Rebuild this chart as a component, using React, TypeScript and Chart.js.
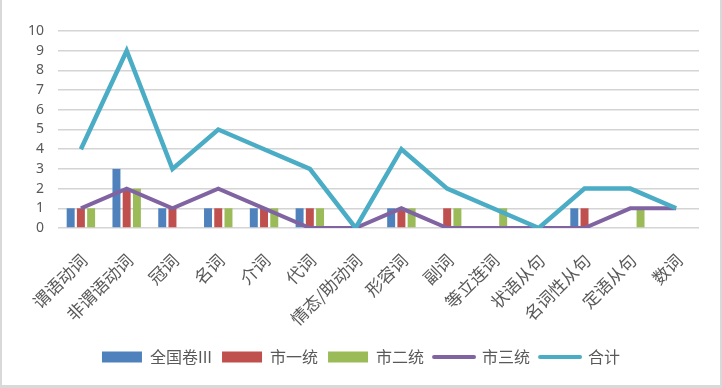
import React, { useEffect, useRef } from "react";
import { Chart, registerables } from "chart.js";

Chart.register(...registerables);

const categories = [
  "谓语动词", "非谓语动词", "冠词", "名词", "介词", "代词", "情态/助动词",
  "形容词", "副词", "等立连词", "状语从句", "名词性从句", "定语从句", "数词",
];
const quanguo = [1, 3, 1, 1, 1, 1, 0, 1, 0, 0, 0, 1, 0, 0];
const shiYi = [1, 2, 1, 1, 1, 1, 0, 1, 1, 0, 0, 1, 0, 0];
const shiEr = [1, 2, 0, 1, 1, 1, 0, 1, 1, 1, 0, 0, 1, 0];
const shiSan = [1, 2, 1, 2, 1, 0, 0, 1, 0, 0, 0, 0, 1, 1];
const heji = [4, 9, 3, 5, 4, 3, 0, 4, 2, 1, 0, 2, 2, 1];
const yTicks = [0, 1, 2, 3, 4, 5, 6, 7, 8, 9, 10];

const CJK = '"Noto Sans CJK SC", "Noto Sans", sans-serif';

export default function App() {
  const ref = useRef<HTMLCanvasElement>(null);

  useEffect(() => {
    document.body.style.margin = "0";
    const canvas = ref.current;
    if (!canvas) return;
    const barCommon = {
      type: "bar" as const,
      categoryPercentage: 0.67,
      barPercentage: 0.78,
      order: 2,
    };
    const chart = new Chart(canvas, {
      type: "bar",
      data: {
        labels: categories,
        datasets: [
          { ...barCommon, label: "全国卷III", data: quanguo, backgroundColor: "#4F81BD" },
          { ...barCommon, label: "市一统", data: shiYi, backgroundColor: "#C0504D" },
          { ...barCommon, label: "市二统", data: shiEr, backgroundColor: "#9BBB59" },
          {
            type: "line" as const,
            label: "市三统",
            data: shiSan,
            borderColor: "#8064A2",
            backgroundColor: "#8064A2",
            borderWidth: 4,
            pointRadius: 0,
            tension: 0,
            order: 1,
          },
          {
            type: "line" as const,
            label: "合计",
            data: heji,
            borderColor: "#4BACC6",
            backgroundColor: "#4BACC6",
            borderWidth: 4.5,
            pointRadius: 0,
            tension: 0,
            order: 0,
          },
        ] as any,
      },
      options: {
        responsive: false,
        animation: false,
        devicePixelRatio: 1,
        layout: { padding: { top: 31, right: 0, left: 0, bottom: 10 } },
        plugins: {
          tooltip: { enabled: false },
          legend: {
            position: "bottom",
            labels: {
              color: "#595959",
              font: { family: CJK, size: 16 },
              boxWidth: 40,
              boxHeight: 11,
              usePointStyle: true,
              pointStyleWidth: 40,
              padding: 10,
              generateLabels: (c: any) =>
                c.data.datasets.map((ds: any, i: number) => {
                  const isLine = ds.type === "line";
                  const col = isLine ? ds.borderColor : ds.backgroundColor;
                  return {
                    text: ds.label,
                    fillStyle: col,
                    strokeStyle: col,
                    lineWidth: isLine ? 4 : 0,
                    lineCap: "round",
                    pointStyle: isLine ? "line" : "rect",
                    hidden: false,
                    datasetIndex: i,
                    fontColor: "#595959",
                  };
                }),
            },
          },
        },
        scales: {
          x: {
            offset: true,
            grid: { display: false, drawTicks: false },
            border: { display: false },
            ticks: {
              color: "#595959",
              font: { family: CJK, size: 17 },
              maxRotation: 45,
              minRotation: 45,
              autoSkip: false,
              padding: 22,
              labelOffset: 3,
            },
            afterFit: (s: any) => {
              s.height = 111;
            },
          },
          y: {
            min: 0,
            max: 10,
            afterBuildTicks: (s: any) => {
              s.ticks = yTicks.map((v) => ({ value: v }));
            },
            grid: { color: "#D4D4D4", lineWidth: 1.5, drawTicks: false },
            border: { display: false },
            ticks: {
              color: "#595959",
              font: { family: '"Noto Sans", sans-serif', size: 14 },
              padding: 14,
              stepSize: 1,
              autoSkip: false,
            },
            afterFit: (s: any) => {
              s.width = 56;
            },
          },
          yRight: {
            position: "right",
            min: 0,
            max: 1,
            grid: { display: false, drawTicks: false },
            border: { display: false },
            ticks: { display: false },
            afterFit: (s: any) => {
              s.width = 21;
            },
          },
        },
      },
    });
    return () => chart.destroy();
  }, []);

  return (
    <div
      style={{
        width: 722,
        height: 388,
        boxSizing: "border-box",
        borderLeft: "2px solid #D9D9D9",
        borderRight: "2px solid #D9D9D9",
        borderBottom: "3px solid #D9D9D9",
        background: "#fff",
      }}
    >
      <canvas ref={ref} width={718} height={385} style={{ display: "block" }} />
    </div>
  );
}
